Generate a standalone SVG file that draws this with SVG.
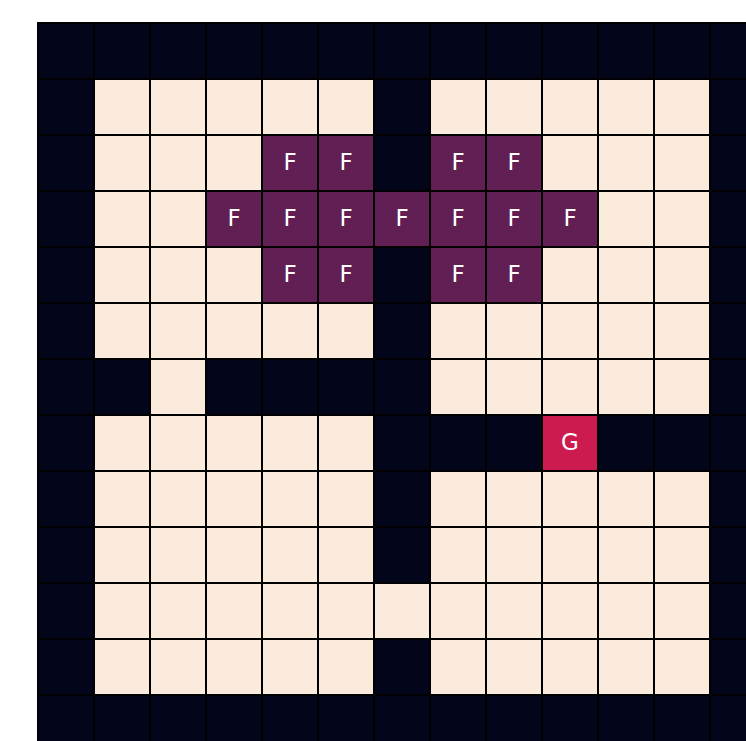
<svg xmlns="http://www.w3.org/2000/svg" width="746" height="741" viewBox="0 0 746 741">
<style>
.w{fill:#03051A}.f{fill:#FAEBDD}.p{fill:#611F53}.g{fill:#CB1B4F}
#grid rect{stroke:#000;stroke-width:2}
text{font-family:"DejaVu Sans",sans-serif;font-size:23px;fill:#fff;text-anchor:middle;dominant-baseline:central}
</style>
<rect x="0" y="0" width="746" height="741" fill="#fff"/>
<g id="grid">
<g id="r0">
<rect class="w" x="38" y="23" width="56" height="56"/><rect class="w" x="94" y="23" width="56" height="56"/><rect class="w" x="150" y="23" width="56" height="56"/><rect class="w" x="206" y="23" width="56" height="56"/><rect class="w" x="262" y="23" width="56" height="56"/><rect class="w" x="318" y="23" width="56" height="56"/><rect class="w" x="374" y="23" width="56" height="56"/><rect class="w" x="430" y="23" width="56" height="56"/><rect class="w" x="486" y="23" width="56" height="56"/><rect class="w" x="542" y="23" width="56" height="56"/><rect class="w" x="598" y="23" width="56" height="56"/><rect class="w" x="654" y="23" width="56" height="56"/><rect class="w" x="710" y="23" width="56" height="56"/>
</g>
<g id="r1">
<rect class="w" x="38" y="79" width="56" height="56"/><rect class="f" x="94" y="79" width="56" height="56"/><rect class="f" x="150" y="79" width="56" height="56"/><rect class="f" x="206" y="79" width="56" height="56"/><rect class="f" x="262" y="79" width="56" height="56"/><rect class="f" x="318" y="79" width="56" height="56"/><rect class="w" x="374" y="79" width="56" height="56"/><rect class="f" x="430" y="79" width="56" height="56"/><rect class="f" x="486" y="79" width="56" height="56"/><rect class="f" x="542" y="79" width="56" height="56"/><rect class="f" x="598" y="79" width="56" height="56"/><rect class="f" x="654" y="79" width="56" height="56"/><rect class="w" x="710" y="79" width="56" height="56"/>
</g>
<g id="r2">
<rect class="w" x="38" y="135" width="56" height="56"/><rect class="f" x="94" y="135" width="56" height="56"/><rect class="f" x="150" y="135" width="56" height="56"/><rect class="f" x="206" y="135" width="56" height="56"/><rect class="p" x="262" y="135" width="56" height="56"/><rect class="p" x="318" y="135" width="56" height="56"/><rect class="w" x="374" y="135" width="56" height="56"/><rect class="p" x="430" y="135" width="56" height="56"/><rect class="p" x="486" y="135" width="56" height="56"/><rect class="f" x="542" y="135" width="56" height="56"/><rect class="f" x="598" y="135" width="56" height="56"/><rect class="f" x="654" y="135" width="56" height="56"/><rect class="w" x="710" y="135" width="56" height="56"/>
</g>
<g id="r3">
<rect class="w" x="38" y="191" width="56" height="56"/><rect class="f" x="94" y="191" width="56" height="56"/><rect class="f" x="150" y="191" width="56" height="56"/><rect class="p" x="206" y="191" width="56" height="56"/><rect class="p" x="262" y="191" width="56" height="56"/><rect class="p" x="318" y="191" width="56" height="56"/><rect class="p" x="374" y="191" width="56" height="56"/><rect class="p" x="430" y="191" width="56" height="56"/><rect class="p" x="486" y="191" width="56" height="56"/><rect class="p" x="542" y="191" width="56" height="56"/><rect class="f" x="598" y="191" width="56" height="56"/><rect class="f" x="654" y="191" width="56" height="56"/><rect class="w" x="710" y="191" width="56" height="56"/>
</g>
<g id="r4">
<rect class="w" x="38" y="247" width="56" height="56"/><rect class="f" x="94" y="247" width="56" height="56"/><rect class="f" x="150" y="247" width="56" height="56"/><rect class="f" x="206" y="247" width="56" height="56"/><rect class="p" x="262" y="247" width="56" height="56"/><rect class="p" x="318" y="247" width="56" height="56"/><rect class="w" x="374" y="247" width="56" height="56"/><rect class="p" x="430" y="247" width="56" height="56"/><rect class="p" x="486" y="247" width="56" height="56"/><rect class="f" x="542" y="247" width="56" height="56"/><rect class="f" x="598" y="247" width="56" height="56"/><rect class="f" x="654" y="247" width="56" height="56"/><rect class="w" x="710" y="247" width="56" height="56"/>
</g>
<g id="r5">
<rect class="w" x="38" y="303" width="56" height="56"/><rect class="f" x="94" y="303" width="56" height="56"/><rect class="f" x="150" y="303" width="56" height="56"/><rect class="f" x="206" y="303" width="56" height="56"/><rect class="f" x="262" y="303" width="56" height="56"/><rect class="f" x="318" y="303" width="56" height="56"/><rect class="w" x="374" y="303" width="56" height="56"/><rect class="f" x="430" y="303" width="56" height="56"/><rect class="f" x="486" y="303" width="56" height="56"/><rect class="f" x="542" y="303" width="56" height="56"/><rect class="f" x="598" y="303" width="56" height="56"/><rect class="f" x="654" y="303" width="56" height="56"/><rect class="w" x="710" y="303" width="56" height="56"/>
</g>
<g id="r6">
<rect class="w" x="38" y="359" width="56" height="56"/><rect class="w" x="94" y="359" width="56" height="56"/><rect class="f" x="150" y="359" width="56" height="56"/><rect class="w" x="206" y="359" width="56" height="56"/><rect class="w" x="262" y="359" width="56" height="56"/><rect class="w" x="318" y="359" width="56" height="56"/><rect class="w" x="374" y="359" width="56" height="56"/><rect class="f" x="430" y="359" width="56" height="56"/><rect class="f" x="486" y="359" width="56" height="56"/><rect class="f" x="542" y="359" width="56" height="56"/><rect class="f" x="598" y="359" width="56" height="56"/><rect class="f" x="654" y="359" width="56" height="56"/><rect class="w" x="710" y="359" width="56" height="56"/>
</g>
<g id="r7">
<rect class="w" x="38" y="415" width="56" height="56"/><rect class="f" x="94" y="415" width="56" height="56"/><rect class="f" x="150" y="415" width="56" height="56"/><rect class="f" x="206" y="415" width="56" height="56"/><rect class="f" x="262" y="415" width="56" height="56"/><rect class="f" x="318" y="415" width="56" height="56"/><rect class="w" x="374" y="415" width="56" height="56"/><rect class="w" x="430" y="415" width="56" height="56"/><rect class="w" x="486" y="415" width="56" height="56"/><rect class="g" x="542" y="415" width="56" height="56"/><rect class="w" x="598" y="415" width="56" height="56"/><rect class="w" x="654" y="415" width="56" height="56"/><rect class="w" x="710" y="415" width="56" height="56"/>
</g>
<g id="r8">
<rect class="w" x="38" y="471" width="56" height="56"/><rect class="f" x="94" y="471" width="56" height="56"/><rect class="f" x="150" y="471" width="56" height="56"/><rect class="f" x="206" y="471" width="56" height="56"/><rect class="f" x="262" y="471" width="56" height="56"/><rect class="f" x="318" y="471" width="56" height="56"/><rect class="w" x="374" y="471" width="56" height="56"/><rect class="f" x="430" y="471" width="56" height="56"/><rect class="f" x="486" y="471" width="56" height="56"/><rect class="f" x="542" y="471" width="56" height="56"/><rect class="f" x="598" y="471" width="56" height="56"/><rect class="f" x="654" y="471" width="56" height="56"/><rect class="w" x="710" y="471" width="56" height="56"/>
</g>
<g id="r9">
<rect class="w" x="38" y="527" width="56" height="56"/><rect class="f" x="94" y="527" width="56" height="56"/><rect class="f" x="150" y="527" width="56" height="56"/><rect class="f" x="206" y="527" width="56" height="56"/><rect class="f" x="262" y="527" width="56" height="56"/><rect class="f" x="318" y="527" width="56" height="56"/><rect class="w" x="374" y="527" width="56" height="56"/><rect class="f" x="430" y="527" width="56" height="56"/><rect class="f" x="486" y="527" width="56" height="56"/><rect class="f" x="542" y="527" width="56" height="56"/><rect class="f" x="598" y="527" width="56" height="56"/><rect class="f" x="654" y="527" width="56" height="56"/><rect class="w" x="710" y="527" width="56" height="56"/>
</g>
<g id="r10">
<rect class="w" x="38" y="583" width="56" height="56"/><rect class="f" x="94" y="583" width="56" height="56"/><rect class="f" x="150" y="583" width="56" height="56"/><rect class="f" x="206" y="583" width="56" height="56"/><rect class="f" x="262" y="583" width="56" height="56"/><rect class="f" x="318" y="583" width="56" height="56"/><rect class="f" x="374" y="583" width="56" height="56"/><rect class="f" x="430" y="583" width="56" height="56"/><rect class="f" x="486" y="583" width="56" height="56"/><rect class="f" x="542" y="583" width="56" height="56"/><rect class="f" x="598" y="583" width="56" height="56"/><rect class="f" x="654" y="583" width="56" height="56"/><rect class="w" x="710" y="583" width="56" height="56"/>
</g>
<g id="r11">
<rect class="w" x="38" y="639" width="56" height="56"/><rect class="f" x="94" y="639" width="56" height="56"/><rect class="f" x="150" y="639" width="56" height="56"/><rect class="f" x="206" y="639" width="56" height="56"/><rect class="f" x="262" y="639" width="56" height="56"/><rect class="f" x="318" y="639" width="56" height="56"/><rect class="w" x="374" y="639" width="56" height="56"/><rect class="f" x="430" y="639" width="56" height="56"/><rect class="f" x="486" y="639" width="56" height="56"/><rect class="f" x="542" y="639" width="56" height="56"/><rect class="f" x="598" y="639" width="56" height="56"/><rect class="f" x="654" y="639" width="56" height="56"/><rect class="w" x="710" y="639" width="56" height="56"/>
</g>
<g id="r12">
<rect class="w" x="38" y="695" width="56" height="56"/><rect class="w" x="94" y="695" width="56" height="56"/><rect class="w" x="150" y="695" width="56" height="56"/><rect class="w" x="206" y="695" width="56" height="56"/><rect class="w" x="262" y="695" width="56" height="56"/><rect class="w" x="318" y="695" width="56" height="56"/><rect class="w" x="374" y="695" width="56" height="56"/><rect class="w" x="430" y="695" width="56" height="56"/><rect class="w" x="486" y="695" width="56" height="56"/><rect class="w" x="542" y="695" width="56" height="56"/><rect class="w" x="598" y="695" width="56" height="56"/><rect class="w" x="654" y="695" width="56" height="56"/><rect class="w" x="710" y="695" width="56" height="56"/>
</g>
</g>
<g id="labels">
<text x="290" y="162">F</text><text x="346" y="162">F</text><text x="458" y="162">F</text><text x="514" y="162">F</text>
<text x="234" y="218">F</text><text x="290" y="218">F</text><text x="346" y="218">F</text><text x="402" y="218">F</text><text x="458" y="218">F</text><text x="514" y="218">F</text><text x="570" y="218">F</text>
<text x="290" y="274">F</text><text x="346" y="274">F</text><text x="458" y="274">F</text><text x="514" y="274">F</text>
<text x="570" y="442">G</text>
</g>
</svg>
